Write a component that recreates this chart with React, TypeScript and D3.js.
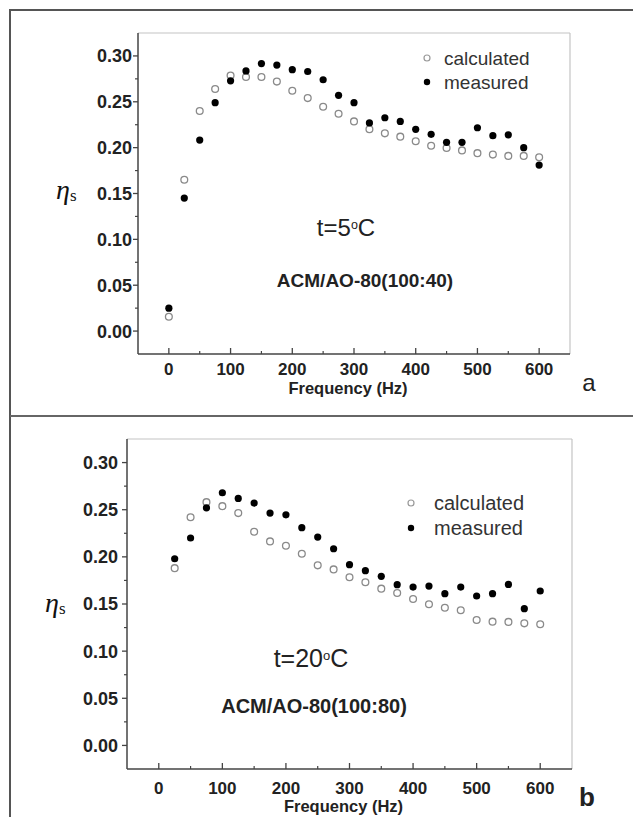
import React from "react";
import * as d3 from "d3";

const freqA = [0, 25, 50, 75, 100, 125, 150, 175, 200, 225, 250, 275, 300, 325, 350, 375, 400, 425, 450, 475, 500, 525, 550, 575, 600];
const calcA = [0.0156, 0.165, 0.240, 0.264, 0.2786, 0.277, 0.277, 0.272, 0.262, 0.254, 0.2446, 0.237, 0.2286, 0.220, 0.2156, 0.212, 0.207, 0.202, 0.1996, 0.197, 0.194, 0.1924, 0.191, 0.191, 0.1895];
const measA = [0.025, 0.145, 0.2083, 0.249, 0.2728, 0.2837, 0.2917, 0.290, 0.285, 0.283, 0.274, 0.257, 0.249, 0.227, 0.2326, 0.2286, 0.220, 0.2145, 0.2058, 0.2058, 0.2217, 0.213, 0.214, 0.200, 0.181];

const freqB = [25, 50, 75, 100, 125, 150, 175, 200, 225, 250, 275, 300, 325, 350, 375, 400, 425, 450, 475, 500, 525, 550, 575, 600];
const calcB = [0.188, 0.242, 0.258, 0.2538, 0.2464, 0.2266, 0.2164, 0.2118, 0.2033, 0.191, 0.1867, 0.1783, 0.173, 0.1663, 0.1617, 0.1553, 0.1497, 0.146, 0.1433, 0.133, 0.1313, 0.131, 0.1295, 0.1285];
const measB = [0.198, 0.220, 0.252, 0.268, 0.262, 0.257, 0.2464, 0.2446, 0.231, 0.221, 0.2086, 0.1917, 0.1853, 0.1793, 0.1705, 0.168, 0.169, 0.161, 0.168, 0.1585, 0.161, 0.1708, 0.145, 0.1638];

const yTicks = [0, 0.05, 0.1, 0.15, 0.2, 0.25, 0.3];
const yMinor = [-0.025, 0.025, 0.075, 0.125, 0.175, 0.225, 0.275, 0.325];
const xTicks = [0, 100, 200, 300, 400, 500, 600];
const xMinor = [-50, 50, 150, 250, 350, 450, 550, 650];
const legendLabels = ["calculated", "measured"];

const SANS = "'Liberation Sans', Arial, Helvetica, sans-serif";
const SERIF = "'Liberation Serif', 'Times New Roman', serif";

type PanelProps = {
  freq: number[];
  calc: number[];
  meas: number[];
  left: number; right: number; top: number; bottom: number;
  yLabelGap: number;
  xLabelY: number; xTitleY: number;
  legX: number; legY: number; legTextX: number; legFont: number; legGap: number;
  tempPrefix: string; tempX: number; tempY: number; tempFont: number;
  sample: string; sampleX: number; sampleY: number; sampleFont: number;
  etaX: number; etaY: number;
  letter: string; letterX: number; letterY: number; letterBold: boolean; letterFont: number;
};

function Panel(p: PanelProps) {
  const x = d3.scaleLinear().domain([-50, 650]).range([p.left, p.right]);
  const y = d3.scaleLinear().domain([-0.025, 0.325]).range([p.bottom, p.top]);
  const fmt = d3.format(".2f");
  const ringSize = p.tempFont * 0.52;
  const ringShift = p.tempFont * 0.3;
  return (
    <g>
      <line x1={p.left} x2={p.right} y1={p.top} y2={p.top} stroke="#c4c4c4" strokeWidth={1.2} />
      <line x1={p.right} x2={p.right} y1={p.top} y2={p.bottom} stroke="#c4c4c4" strokeWidth={1.2} />
      <line x1={p.left} x2={p.left} y1={p.top} y2={p.bottom} stroke="#444" strokeWidth={1.5} />
      <line x1={p.left} x2={p.right} y1={p.bottom} y2={p.bottom} stroke="#444" strokeWidth={1.5} />
      {yTicks.map((t) => (
        <g key={"yt" + t}>
          <line x1={p.left - 5} x2={p.left} y1={y(t)} y2={y(t)} stroke="#444" strokeWidth={1.3} />
          <text x={p.left - p.yLabelGap} y={y(t)} dy="0.36em" textAnchor="end" fontFamily={SANS} fontWeight="bold" fontSize={18} fill="#222">{fmt(t)}</text>
        </g>
      ))}
      {yMinor.filter((t) => y(t) > p.top + 1 && y(t) < p.bottom - 1).map((t) => (
        <line key={"ym" + t} x1={p.left - 3} x2={p.left} y1={y(t)} y2={y(t)} stroke="#444" strokeWidth={1.2} />
      ))}
      {xTicks.map((t) => (
        <g key={"xt" + t}>
          <line x1={x(t)} x2={x(t)} y1={p.bottom - 6} y2={p.bottom} stroke="#444" strokeWidth={1.3} />
          <text x={x(t)} y={p.xLabelY} textAnchor="middle" fontFamily={SANS} fontWeight="bold" fontSize={17} fill="#222">{t}</text>
        </g>
      ))}
      {xMinor.filter((t) => x(t) > p.left + 1 && x(t) < p.right - 1).map((t) => (
        <line key={"xm" + t} x1={x(t)} x2={x(t)} y1={p.bottom - 3} y2={p.bottom} stroke="#444" strokeWidth={1.2} />
      ))}
      <text x={(p.left + p.right) / 2 - 6} y={p.xTitleY} textAnchor="middle" fontFamily={SANS} fontWeight="bold" fontSize={16.5} fill="#222">Frequency (Hz)</text>
      <text x={p.etaX} y={p.etaY} fontFamily={SERIF} fill="#111">
        <tspan fontStyle="italic" fontSize={28}>η</tspan>
        <tspan fontSize={17} dy={2}>s</tspan>
      </text>
      {p.freq.map((f, i) => (
        <circle key={"c" + f} cx={x(f)} cy={y(p.calc[i])} r={3.4} fill="#fff" stroke="#8a8a8a" strokeWidth={1.3} />
      ))}
      {p.freq.map((f, i) => (
        <circle key={"m" + f} cx={x(f)} cy={y(p.meas[i])} r={3.6} fill="#000" />
      ))}
      <circle cx={p.legX} cy={p.legY} r={3} fill="#fff" stroke="#999" strokeWidth={1.2} />
      <text x={p.legTextX} y={p.legY} dy="0.35em" fontFamily={SANS} fontSize={p.legFont} fill="#333">{legendLabels[0]}</text>
      <circle cx={p.legX} cy={p.legY + p.legGap} r={3.2} fill="#000" />
      <text x={p.legTextX} y={p.legY + p.legGap} dy="0.35em" fontFamily={SANS} fontSize={p.legFont} fill="#333">{legendLabels[1]}</text>
      <text x={p.tempX} y={p.tempY} textAnchor="middle" fontFamily={SANS} fontSize={p.tempFont} fill="#222">
        <tspan>{p.tempPrefix}</tspan>
        <tspan fontSize={ringSize} dy={-ringShift}>o</tspan>
        <tspan dy={ringShift}>C</tspan>
      </text>
      <text x={p.sampleX} y={p.sampleY} textAnchor="middle" fontFamily={SANS} fontWeight="bold" fontSize={p.sampleFont} fill="#222">{p.sample}</text>
      <text x={p.letterX} y={p.letterY} textAnchor="middle" fontFamily={SANS} fontWeight={p.letterBold ? "bold" : "normal"} fontSize={p.letterFont} fill="#222">{p.letter}</text>
    </g>
  );
}

export default function App() {
  return (
    <svg width={633} height={817} style={{ position: "absolute", left: 0, top: 0, background: "#fff" }}>
      <rect x={0} y={0} width={633} height={817} fill="#fff" />
      <line x1={10} x2={633} y1={10} y2={10} stroke="#555" strokeWidth={2} />
      <line x1={10} x2={10} y1={9} y2={817} stroke="#555" strokeWidth={2} />
      <line x1={10} x2={633} y1={416} y2={416} stroke="#666" strokeWidth={2} />
      <Panel
        freq={freqA} calc={calcA} meas={measA}
        left={138} right={570} top={33} bottom={354}
        yLabelGap={6}
        xLabelY={375} xTitleY={394}
        legX={427} legY={58} legTextX={444} legFont={19} legGap={24}
        tempPrefix="t=5" tempX={346} tempY={236} tempFont={24}
        sample="ACM/AO-80(100:40)" sampleX={365} sampleY={287} sampleFont={19}
        etaX={56} etaY={199}
        letter="a" letterX={589} letterY={391} letterBold={false} letterFont={24}
      />
      <Panel
        freq={freqB} calc={calcB} meas={measB}
        left={127} right={572} top={439} bottom={769}
        yLabelGap={9}
        xLabelY={794} xTitleY={812}
        legX={411} legY={503} legTextX={434} legFont={20} legGap={25}
        tempPrefix="t=20" tempX={311} tempY={667} tempFont={25}
        sample="ACM/AO-80(100:80)" sampleX={314} sampleY={713} sampleFont={20}
        etaX={45} etaY={612}
        letter="b" letterX={587} letterY={806} letterBold={true} letterFont={26}
      />
    </svg>
  );
}
